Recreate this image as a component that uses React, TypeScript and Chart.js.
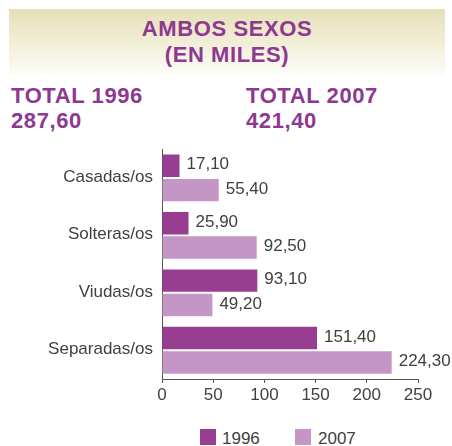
import React, { useEffect, useRef } from "react";
import { Chart, registerables } from "chart.js";

Chart.register(...registerables);

const categories = ["Casadas/os", "Solteras/os", "Viudas/os", "Separadas/os"];
const seriesNames = ["1996", "2007"];
const values1996 = [17.1, 25.9, 93.1, 151.4];
const values2007 = [55.4, 92.5, 49.2, 224.3];
const xTicks = [0, 50, 100, 150, 200, 250];
const titleLines = ["AMBOS SEXOS", "(EN MILES)"];
const totals = [
  { label: "TOTAL 1996", value: "287,60" },
  { label: "TOTAL 2007", value: "421,40" },
];

const C1996 = "#973e93";
const C2007 = "#c496c5";
const PURPLE = "#8e3891";
const TEXT = "#404040";
const FONT = "'Liberation Sans', Arial, sans-serif";

const fmt = (v: number) => v.toFixed(2).replace(".", ",");

const dataLabels = {
  id: "dataLabels",
  afterDatasetsDraw(chart: any) {
    const ctx = chart.ctx;
    ctx.save();
    ctx.font = `17px ${FONT}`;
    ctx.fillStyle = TEXT;
    ctx.textAlign = "left";
    ctx.textBaseline = "middle";
    chart.data.datasets.forEach((ds: any, i: number) => {
      const meta = chart.getDatasetMeta(i);
      meta.data.forEach((el: any, j: number) => {
        ctx.fillText(fmt(ds.data[j]), el.x + 7, el.y - 1);
      });
    });
    ctx.restore();
  },
};

export default function App() {
  const ref = useRef<HTMLCanvasElement>(null);
  useEffect(() => {
    if (!ref.current) return;
    const chart = new Chart(ref.current, {
      type: "bar",
      data: {
        labels: categories,
        datasets: [
          { label: seriesNames[0], data: values1996, backgroundColor: C1996 },
          { label: seriesNames[1], data: values2007, backgroundColor: C2007 },
        ],
      },
      options: {
        indexAxis: "y",
        animation: false,
        responsive: false,
        maintainAspectRatio: false,
        categoryPercentage: 0.85,
        barPercentage: 0.92,
        layout: { padding: { top: 14, right: 34, left: 0, bottom: 0 } },
        plugins: { legend: { display: false }, tooltip: { enabled: false } },
        scales: {
          x: {
            min: 0,
            max: 250,
            afterBuildTicks: (s: any) => {
              s.ticks = xTicks.map((v) => ({ value: v }));
            },
            afterFit: (s: any) => {
              s.height = 41;
            },
            grid: {
              display: true,
              drawOnChartArea: false,
              drawTicks: true,
              tickLength: 4,
              color: "#555",
            },
            border: { display: true, color: "#555", width: 1 },
            ticks: {
              padding: 2,
              color: TEXT,
              font: { family: FONT, size: 17 },
              maxRotation: 0,
              autoSkip: false,
            },
          },
          y: {
            afterFit: (s: any) => {
              s.width = 162;
            },
            grid: { display: false, drawTicks: false },
            border: { display: true, color: "#555", width: 1 },
            ticks: {
              padding: 9,
              labelOffset: -1,
              color: TEXT,
              font: { family: FONT, size: 17 },
            },
          },
        },
      },
      plugins: [dataLabels],
    });
    return () => chart.destroy();
  }, []);

  const bold: React.CSSProperties = {
    position: "absolute",
    fontFamily: FONT,
    fontWeight: 900,
    fontSize: 22,
    lineHeight: "22px",
    color: PURPLE,
    letterSpacing: 0.6,
    whiteSpace: "nowrap",
  };

  return (
    <div style={{ position: "absolute", left: 0, top: 0, width: 452, height: 446, background: "#fff" }}>
      <div
        style={{
          position: "absolute",
          left: 9,
          top: 9,
          width: 436,
          height: 71,
          background: "linear-gradient(to bottom, #e5e0b8 0%, #f3f0dc 55%, #ffffff 100%)",
        }}
      />
      {titleLines.map((t, i) => (
        <div key={t} style={{ ...bold, left: 9, width: 436, textAlign: "center", top: 17.5 + i * 26 }}>
          {t}
        </div>
      ))}
      {totals.map((t, i) => (
        <React.Fragment key={t.label}>
          <div style={{ ...bold, left: i === 0 ? 11 : 246, top: 84.5 }}>{t.label}</div>
          <div style={{ ...bold, left: i === 0 ? 11 : 246, top: 109.5 }}>{t.value}</div>
        </React.Fragment>
      ))}
      <canvas
        ref={ref}
        width={452}
        height={290}
        style={{ position: "absolute", left: 0, top: 130, width: 452, height: 290 }}
      />
      {seriesNames.map((n, i) => (
        <React.Fragment key={n}>
          <div
            style={{
              position: "absolute",
              left: i === 0 ? 200 : 295,
              top: 429,
              width: 16,
              height: 16,
              background: i === 0 ? C1996 : C2007,
            }}
          />
          <div
            style={{
              position: "absolute",
              left: i === 0 ? 222 : 318,
              top: 431,
              fontFamily: FONT,
              fontSize: 17,
              lineHeight: "16px",
              color: TEXT,
            }}
          >
            {n}
          </div>
        </React.Fragment>
      ))}
    </div>
  );
}
